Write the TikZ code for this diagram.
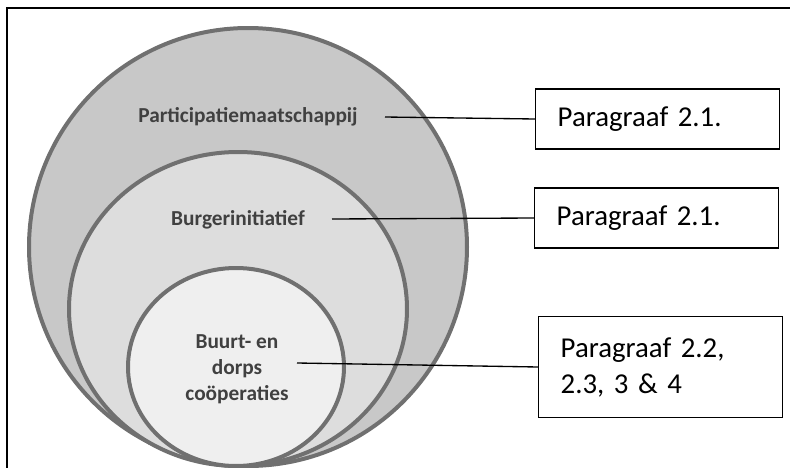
\documentclass[tikz,border=0pt]{standalone}
\usepackage{fontspec}
\setmainfont{Carlito}
\usetikzlibrary{positioning}
\definecolor{borde}{HTML}{707070}
\definecolor{relleno1}{HTML}{C8C8C8}
\definecolor{relleno2}{HTML}{DDDDDD}
\definecolor{relleno3}{HTML}{EFEFEF}
\definecolor{texto}{HTML}{404040}
\begin{document}
\begin{tikzpicture}[x=0.75pt,y=-0.75pt,
    circulo/.style={draw=borde, line width=3pt},
    etiqueta/.style={font=\fontsize{16}{19.5}\selectfont\bfseries, text=texto, align=center},
    caja/.style={draw, line width=1.1pt, anchor=west, text width=150pt, inner xsep=16.5pt,
      align=left, minimum height=45pt, font=\fontsize{21.6}{27}\selectfont}]
  \useasboundingbox (0,0) rectangle (790,468);

  % Marco
  \draw[line width=1.5pt] (7,480) -- (7,8) -- (800,8);

  % Círculos
  \draw[circulo, fill=relleno1] (248,247) circle [radius=219];
  \draw[circulo, fill=relleno2] (238,309) ellipse [x radius=169, y radius=157];
  \draw[circulo, fill=relleno3] (236,367) ellipse [x radius=108, y radius=99];

  % Etiquetas
  \node[etiqueta] (participatie) at (248,117) {Participatiemaatschappij};
  \node[etiqueta] (burger) at (238,220) {Burgerinitiatief};
  \node[etiqueta] (buurt) at (237,369) {Buurt- en\\dorps\\coöperaties};

  % Cajas
  \node[caja] (caja1) at (535,119) {Paragraaf 2.1.};
  \node[caja] (caja2) at (534,218) {Paragraaf 2.1.};
  \node[caja, minimum height=75.75pt] (caja3) at (538,367) {Paragraaf 2.2,\\2.3, 3 \& 4};

  % Líneas
  \coordinate (p1) at (385,117);
  \coordinate (p2) at (332,219);
  \coordinate (p3) at (297,363);
  \draw[line width=1pt] (p1) -- (caja1.west);
  \draw[line width=1pt] (p2) -- (caja2.west);
  \draw[line width=1pt] (p3) -- (caja3.west);
\end{tikzpicture}
\end{document}
